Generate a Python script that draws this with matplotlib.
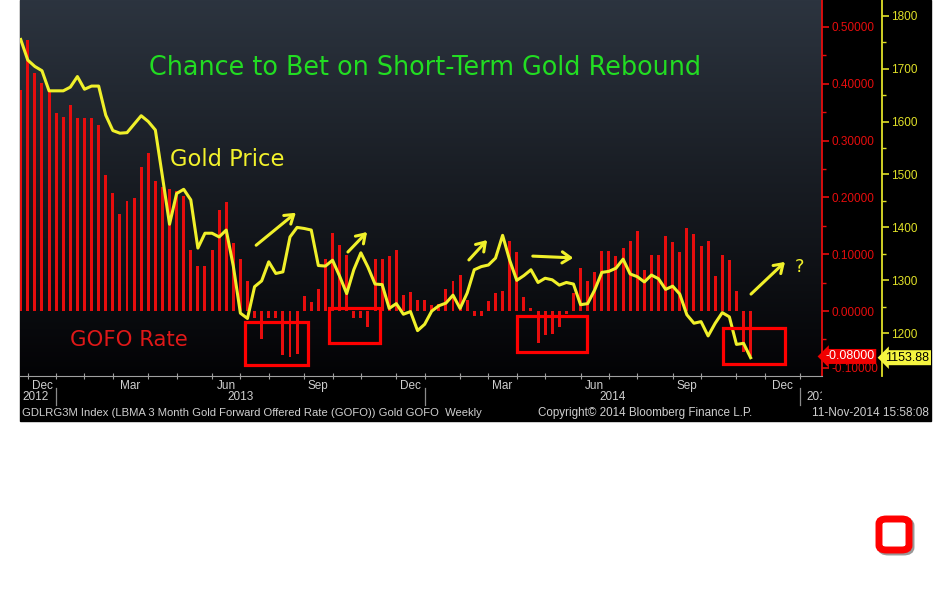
import numpy as np
import matplotlib
matplotlib.use('Agg')
import matplotlib.pyplot as plt
from matplotlib.patches import Rectangle, FancyArrowPatch, FancyBboxPatch
from matplotlib.ticker import FixedLocator, FormatStrFormatter, MultipleLocator
from matplotlib.transforms import blended_transform_factory, Bbox, TransformedBbox

# weekly GOFO 3M rate (red bars) and gold price (yellow line), late Nov 2012 .. Nov 2014
gofo = [0.389, 0.477, 0.419, 0.401, 0.386, 0.348, 0.342, 0.363, 0.339, 0.340,
        0.339, 0.327, 0.239, 0.207, 0.171, 0.194, 0.199, 0.254, 0.278, 0.229,
        0.218, 0.215, 0.211, 0.203, 0.107, 0.080, 0.079, 0.108, 0.178, 0.192,
        0.119, 0.091, 0.053, -0.012, -0.049, -0.013, -0.013, -0.078, -0.081, -0.075,
        0.027, 0.015, 0.038, 0.092, 0.137, 0.116, 0.098, -0.013, -0.012, -0.028,
        0.092, 0.092, 0.096, 0.107, 0.029, 0.033, 0.019, 0.019, 0.010, 0.013,
        0.038, 0.053, 0.063, 0.019, -0.009, -0.009, 0.018, 0.031, 0.036, 0.124,
        0.104, 0.024, 0.005, -0.057, -0.043, -0.041, -0.028, -0.005, 0.031, 0.075,
        0.052, 0.069, 0.105, 0.105, 0.096, 0.111, 0.124, 0.140, 0.072, 0.098,
        0.098, 0.132, 0.121, 0.104, 0.147, 0.135, 0.114, 0.123, 0.061, 0.099,
        0.089, 0.035, -0.072, -0.080]

gold = [1755, 1716, 1704, 1696, 1658, 1658, 1658, 1665, 1685, 1661,
        1667, 1667, 1612, 1583, 1578, 1579, 1595, 1611, 1600, 1584,
        1496, 1406, 1464, 1472, 1452, 1361, 1389, 1389, 1382, 1395,
        1327, 1238, 1228, 1288, 1299, 1335, 1313, 1316, 1382, 1400,
        1398, 1395, 1328, 1327, 1338, 1308, 1275, 1320, 1352, 1325,
        1293, 1292, 1247, 1256, 1236, 1241, 1205, 1217, 1242, 1252,
        1257, 1272, 1247, 1276, 1320, 1326, 1329, 1342, 1385, 1338,
        1300, 1309, 1320, 1296, 1304, 1301, 1291, 1296, 1293, 1254,
        1256, 1282, 1315, 1317, 1323, 1340, 1312, 1307, 1297, 1310,
        1303, 1283, 1289, 1274, 1235, 1219, 1222, 1195, 1219, 1239,
        1231, 1179, 1181, 1153.88]

week = np.arange(len(gofo))

# month boundary ticks (week index) and month labels
month_ticks = [1, 5, 9, 13, 18, 22, 27, 31, 35, 40, 44, 48, 53, 57, 62, 66,
               70, 74, 79, 83, 87, 92, 96, 101, 105, 110]
month_label_pos = [3, 15.5, 29, 42, 55, 68, 81, 94, 107.5]
month_labels = ['Dec', 'Mar', 'Jun', 'Sep', 'Dec', 'Mar', 'Jun', 'Sep', 'Dec']
year_bounds = [5, 57, 110]

gofo_ticks = [-0.1, 0.0, 0.1, 0.2, 0.3, 0.4, 0.5]
gold_ticks = [1200, 1300, 1400, 1500, 1600, 1700, 1800]

W, H = 936, 591
def fx(px):
    return px / W
def fy(py):
    return 1 - py / H

RED = '#e60d0d'
YEL = '#f0f02a'
YAX = '#e0e028'
GRAY = '#cfcfcf'
NARROW = ['Liberation Sans', 'DejaVu Sans']
YPOS = (881.5 - 20) / 801.5

fig = plt.figure(figsize=(W / 100, H / 100), dpi=100)
fig.patch.set_facecolor('white')
fig.patches.append(Rectangle((fx(20), fy(421)), fx(931) - fx(20), 421 / H,
                             transform=fig.transFigure, color='black', zorder=-1))

ax = fig.add_axes([fx(20), fy(376), fx(821.5) - fx(20), 376 / H])
ax2 = ax.twinx()
ax.set_facecolor('black')

# background gradient
top = np.array([44, 52, 63]) / 255
bot = np.array([3, 3, 5]) / 255
t = np.linspace(0, 1, 256)[:, None]
grad = (top * (1 - t) + bot * t)[:, None, :].repeat(2, axis=1)
ax.imshow(grad, extent=[0, 1, 0, 1], transform=ax.transAxes, aspect='auto', zorder=0)

ax.bar(week, gofo, width=0.42, color=RED, zorder=2)
ax.set_xlim(-0.1, 113.0)
ax.set_ylim(-0.1144, 0.5475)

for s in ['top', 'left']:
    ax.spines[s].set_visible(False)
ax.spines['bottom'].set_color('#a0a0a0')
ax.spines['right'].set_color(RED)
ax.spines['right'].set_linewidth(1.3)

ax.yaxis.tick_right()
ax.yaxis.set_major_locator(FixedLocator(gofo_ticks))
ax.yaxis.set_major_formatter(FormatStrFormatter('%.5f'))
ax.yaxis.set_minor_locator(MultipleLocator(0.05))
ax.tick_params(axis='y', which='major', colors=RED, length=5, width=1.2, pad=2,
               labelsize=8.5, left=False, labelleft=False, right=True, labelright=True)
ax.tick_params(axis='y', which='minor', colors=RED, length=3, width=1, left=False, right=True)
for lab in ax.get_yticklabels():
    lab.set_family(NARROW)

ax.xaxis.set_major_locator(FixedLocator(month_ticks))
ax.xaxis.set_major_formatter(plt.NullFormatter())
ax.xaxis.set_minor_locator(FixedLocator(month_label_pos))
ax.xaxis.set_minor_formatter(plt.FixedFormatter(month_labels))
ax.tick_params(axis='x', which='major', colors='#a0a0a0', direction='inout', length=4)
ax.tick_params(axis='x', which='minor', length=0, pad=3, labelsize=8.5, labelcolor=GRAY)
for lab in ax.get_xticklabels(minor=True):
    lab.set_family(NARROW)

ax2.plot(week, gold, color=YEL, lw=2.2, zorder=3)
ax2.set_ylim(1119.3, 1829.6)
ax2.spines['right'].set_position(('axes', YPOS))
ax2.spines['right'].set_color(YAX)
ax2.spines['right'].set_linewidth(1.3)
for s in ['top', 'left', 'bottom']:
    ax2.spines[s].set_visible(False)
ax2.yaxis.set_major_locator(FixedLocator(gold_ticks))
ax2.yaxis.set_major_formatter(FormatStrFormatter('%d'))
ax2.yaxis.set_minor_locator(MultipleLocator(50))
ax2.tick_params(axis='y', which='major', colors=YAX, length=5, width=1.2,
                pad=2, labelsize=8.5)
ax2.tick_params(axis='y', which='minor', colors=YAX, length=3, width=1)
for lab in ax2.get_yticklabels():
    lab.set_family(NARROW)

# last value tags
ax.text(1.005, gofo[-1], '%.5f' % gofo[-1],
        transform=blended_transform_factory(ax.transAxes, ax.transData),
        ha='left', va='center', color='white', fontsize=9, family=NARROW, zorder=10,
        bbox=dict(boxstyle='larrow,pad=0.12', fc='#f00000', ec='none'), clip_on=False)
ax2.text(YPOS + 0.005, gold[-1], '%.2f' % gold[-1],
         transform=blended_transform_factory(ax2.transAxes, ax2.transData),
         ha='left', va='center', color='black', fontsize=9, family=NARROW, zorder=10,
         bbox=dict(boxstyle='larrow,pad=0.12', fc='#f5f540', ec='none'), clip_on=False)

# year row
ytr = blended_transform_factory(ax.transData, fig.transFigure)
ax.text(0.2, fy(397), '2012', transform=ytr, ha='left', va='center', color=GRAY,
        fontsize=8.5, family=NARROW, clip_on=False)
ax.text(31, fy(397), '2013', transform=ytr, ha='center', va='center', color=GRAY,
        fontsize=8.5, family=NARROW, clip_on=False)
ax.text(83.5, fy(397), '2014', transform=ytr, ha='center', va='center', color=GRAY,
        fontsize=8.5, family=NARROW, clip_on=False)
t15 = ax.text(110.9, fy(397), '2015', transform=ytr, ha='left', va='center', color=GRAY,
              fontsize=8.5, family=NARROW, clip_on=True)
t15.set_clip_box(TransformedBbox(Bbox([[fx(20), fy(421)], [fx(822), fy(376)]]),
                                 fig.transFigure))
for xb in year_bounds:
    ax.plot([xb, xb], [fy(388), fy(405)], transform=ytr, color='#8a8a8a', lw=0.9,
            clip_on=False)

fig.text(fx(22), fy(413), 'GDLRG3M Index (LBMA 3 Month Gold Forward Offered Rate (GOFO)) Gold GOFO  Weekly',
         ha='left', va='center', color=GRAY, fontsize=8.1, family=NARROW)
fig.text(fx(538), fy(413), 'Copyright\u00a9 2014 Bloomberg Finance L.P.',
         ha='left', va='center', color=GRAY, fontsize=8.4, family=NARROW)
fig.text(fx(929), fy(413), '11-Nov-2014 15:58:08',
         ha='right', va='center', color=GRAY, fontsize=8.5, family=NARROW)

# headline and series labels
fig.text(fx(425), fy(68), 'Chance to Bet on Short-Term Gold Rebound', ha='center',
         va='center', color='#22dd22', fontsize=18.4)
fig.text(fx(170), fy(160), 'Gold Price', ha='left', va='center', color='#f2f22c',
         fontsize=16.3)
fig.text(fx(70), fy(340), 'GOFO Rate', ha='left', va='center', color='#e01818',
         fontsize=15.3)

# hand-drawn style arrows
arrows = [((254, 247), (298, 211)), ((346, 254), (369, 230)), ((467, 262), (489, 238)),
          ((530, 256), (576, 258)), ((749, 296), (787, 260))]
for (x0, y0), (x1, y1) in arrows:
    fig.patches.append(FancyArrowPatch((fx(x0), fy(y0)), (fx(x1), fy(y1)),
                                       transform=fig.transFigure, arrowstyle='->,head_length=6,head_width=4',
                                       color=YEL, lw=2.2, zorder=5))
fig.text(fx(799), fy(267), '?', ha='center', va='center', color=YEL, fontsize=13)

# red highlight boxes
boxes = [(245, 322, 308, 365), (329, 308, 380, 343), (517, 316, 587, 352), (723, 328, 785, 364)]
for x0, y0, x1, y1 in boxes:
    fig.patches.append(Rectangle((fx(x0), fy(y1)), fx(x1) - fx(x0), (y1 - y0) / H,
                                 transform=fig.transFigure, fill=False, ec='#ff0000',
                                 lw=2.3, zorder=6))

# small red rounded square below the chart
fig.patches.append(FancyBboxPatch((fx(881), fy(552)), fx(30), 31 / H,
                                  boxstyle='round,pad=0,rounding_size=0.008',
                                  transform=fig.transFigure, fc='none', ec='#555555',
                                  lw=5, alpha=0.6, zorder=4))
fig.patches.append(FancyBboxPatch((fx(879), fy(550)), fx(30), 31 / H,
                                  boxstyle='round,pad=0,rounding_size=0.008',
                                  transform=fig.transFigure, fc='white', ec='#ff0000',
                                  lw=5, zorder=5))

fig.savefig('out.png', dpi=100, facecolor='white')
